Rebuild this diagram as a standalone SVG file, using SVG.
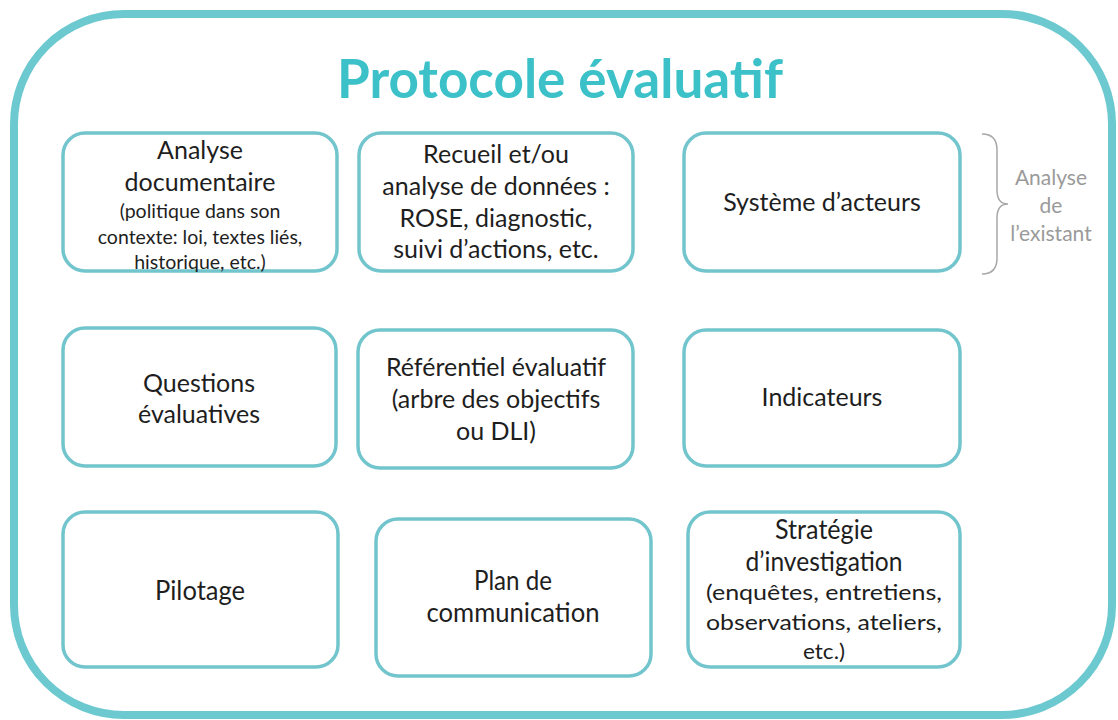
<svg xmlns="http://www.w3.org/2000/svg" width="1118" height="720" viewBox="0 0 1118 720">
  <style>
    .frame { fill: none; stroke: #6dc9d0; stroke-width: 8; }
    .box { fill: #ffffff; stroke: #72c5cc; stroke-width: 3.5; }
    .title { font-family: Lato, "Open Sans", sans-serif; font-weight: 700; font-size: 54px; fill: #3cc1c8; text-anchor: middle; }
    .t { font-family: Lato, "Open Sans", sans-serif; font-size: 25px; fill: #1e1e1e; text-anchor: middle; }
    .s { font-size: 19.5px; }
    .b { font-size: 26px; }
    .bs { font-size: 22px; }
    .side { font-family: Lato, "Open Sans", sans-serif; font-size: 21px; fill: #9a9a9a; text-anchor: middle; }
    .brace { fill: none; stroke: #a8a8a8; stroke-width: 1.5; }
  </style>

  <rect x="0" y="0" width="1118" height="720" fill="#ffffff"/>

  <!-- outer frame and heading -->
  <g id="frame">
    <rect class="frame" x="14" y="14" width="1098" height="701" rx="110" ry="110"/>
    <text class="title" x="560" y="98" textLength="446" lengthAdjust="spacingAndGlyphs">Protocole évaluatif</text>
  </g>

  <!-- row 1 -->
  <g id="analyse-documentaire">
    <rect class="box" x="63" y="133" width="274" height="138" rx="22"/>
    <text class="t" x="200" y="159">Analyse</text>
    <text class="t" x="200" y="191">documentaire</text>
    <text class="t s" x="200" y="218">(politique dans son</text>
    <text class="t s" x="200" y="244">contexte: loi, textes liés,</text>
    <text class="t s" x="200" y="269">historique, etc.)</text>
  </g>

  <g id="recueil-donnees">
    <rect class="box" x="359" y="133" width="274" height="138" rx="22"/>
    <text class="t" x="496" y="163">Recueil et/ou</text>
    <text class="t" x="496" y="195">analyse de données :</text>
    <text class="t" x="496" y="227">ROSE, diagnostic,</text>
    <text class="t" x="496" y="258">suivi d’actions, etc.</text>
  </g>

  <g id="systeme-acteurs">
    <rect class="box" x="684" y="133" width="276" height="138" rx="22"/>
    <text class="t" x="822" y="211">Système d’acteurs</text>
  </g>

  <!-- brace grouping row 1 -->
  <g id="analyse-existant">
    <path class="brace" d="M982,134 Q997,134 997,150 L997,190 Q997,204 1008,204 Q997,204 997,218 L997,258 Q997,274 982,274"/>
    <text class="side" x="1051" y="185">Analyse</text>
    <text class="side" x="1051" y="213">de</text>
    <text class="side" x="1051" y="241">l’existant</text>
  </g>

  <!-- row 2 -->
  <g id="questions-evaluatives">
    <rect class="box" x="63" y="328" width="273" height="138" rx="22"/>
    <text class="t" x="199" y="392">Questions</text>
    <text class="t" x="199" y="423">évaluatives</text>
  </g>

  <g id="referentiel-evaluatif">
    <rect class="box" x="358" y="330" width="275" height="138" rx="22"/>
    <text class="t" x="496" y="376">Référentiel évaluatif</text>
    <text class="t" x="496" y="408">(arbre des objectifs</text>
    <text class="t" x="496" y="440">ou DLI)</text>
  </g>

  <g id="indicateurs">
    <rect class="box" x="684" y="330" width="276" height="136" rx="22"/>
    <text class="t" x="822" y="406">Indicateurs</text>
  </g>

  <!-- row 3 -->
  <g id="pilotage">
    <rect class="box" x="63" y="512" width="275" height="155" rx="22"/>
    <text class="t b" x="200" y="600" textLength="90" lengthAdjust="spacingAndGlyphs">Pilotage</text>
  </g>

  <g id="plan-communication">
    <rect class="box" x="376" y="519" width="275" height="157" rx="22"/>
    <text class="t b" x="513" y="590" textLength="78" lengthAdjust="spacingAndGlyphs">Plan de</text>
    <text class="t b" x="513" y="622" textLength="173" lengthAdjust="spacingAndGlyphs">communication</text>
  </g>

  <g id="strategie-investigation">
    <rect class="box" x="688" y="512" width="272" height="155" rx="22"/>
    <text class="t b" x="824" y="539" textLength="98" lengthAdjust="spacingAndGlyphs">Stratégie</text>
    <text class="t b" x="824" y="571" textLength="157" lengthAdjust="spacingAndGlyphs">d’investigation</text>
    <text class="t bs" x="824" y="600" textLength="236" lengthAdjust="spacingAndGlyphs">(enquêtes, entretiens,</text>
    <text class="t bs" x="824" y="630" textLength="236" lengthAdjust="spacingAndGlyphs">observations, ateliers,</text>
    <text class="t bs" x="824" y="659" textLength="42" lengthAdjust="spacingAndGlyphs">etc.)</text>
  </g>
</svg>
